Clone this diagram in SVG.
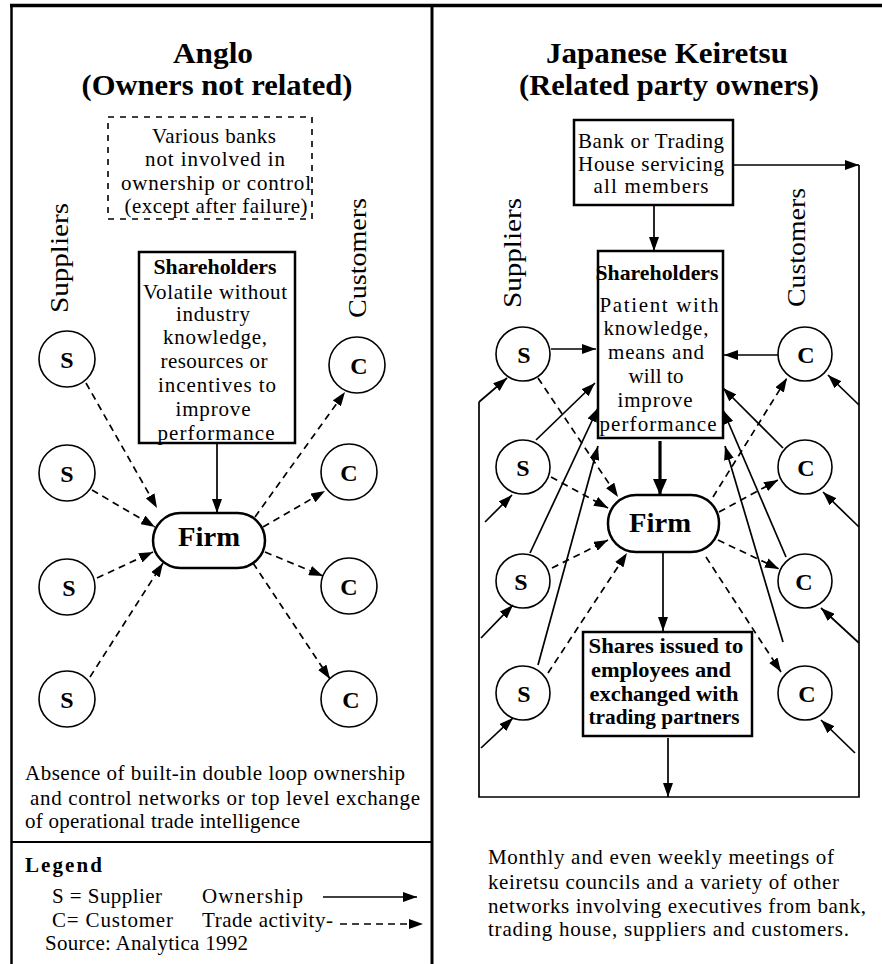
<svg xmlns="http://www.w3.org/2000/svg" width="882" height="964" viewBox="0 0 882 964">
  <style>
    text { font-family: "Liberation Serif", "Times New Roman", serif; fill: #000; }
    .title { font-size: 29px; font-weight: bold; text-anchor: middle; }
    .body { font-size: 21px; text-anchor: middle; }
    .bold { font-size: 21px; font-weight: bold; text-anchor: middle; }
    .letter { font-size: 24px; font-weight: bold; text-anchor: middle; }
    .firm { font-size: 28px; font-weight: bold; text-anchor: middle; }
    .side { font-size: 25px; }
    .note { font-size: 21px; }
    .box { fill: #fff; stroke: #000; stroke-width: 2.5; }
    .dbox { fill: none; stroke: #000; stroke-width: 1.6; stroke-dasharray: 6 6; }
    .circ { fill: #fff; stroke: #000; stroke-width: 1.6; }
    .frame { stroke: #000; fill: none; }
    .own { stroke: #000; stroke-width: 1.7; fill: none; marker-end: url(#ah); }
    .trade { stroke: #000; stroke-width: 1.7; fill: none; stroke-dasharray: 7 5; marker-end: url(#ah); }
    .plain { stroke: #000; stroke-width: 1.7; fill: none; }
  </style>
  <defs>
    <marker id="ah" viewBox="0 0 14 10" refX="14" refY="5" markerWidth="14" markerHeight="10" orient="auto" markerUnits="userSpaceOnUse">
      <path d="M0,0 L14,5 L0,10 z" fill="#000"/>
    </marker>
    <marker id="ahBig" viewBox="0 0 16 14" refX="16" refY="7" markerWidth="16" markerHeight="14" orient="auto" markerUnits="userSpaceOnUse">
      <path d="M0,0 L16,7 L0,14 z" fill="#000"/>
    </marker>
  </defs>

  <rect width="882" height="964" fill="#fff"/>

  <!-- panel frame -->
  <g id="frame">
    <line class="frame" x1="10" y1="5.5" x2="882" y2="5.5" stroke-width="3.5"/>
    <line class="frame" x1="11.5" y1="4" x2="11.5" y2="964" stroke-width="2.5"/>
    <line class="frame" x1="432" y1="4" x2="432" y2="964" stroke-width="3"/>
    <line class="frame" x1="11" y1="842" x2="432" y2="842" stroke-width="2"/>
  </g>

  <!-- ===== Left panel: Anglo ===== -->
  <g id="anglo-title">
    <text class="title" x="213" y="63" textLength="80" lengthAdjust="spacingAndGlyphs">Anglo</text>
    <text class="title" x="217" y="95" textLength="271" lengthAdjust="spacingAndGlyphs">(Owners not related)</text>
  </g>

  <g id="anglo-banks">
    <rect class="dbox" x="108" y="117" width="204" height="102"/>
    <text class="body" x="214" y="143" textLength="124">Various banks</text>
    <text class="body" x="215" y="166" textLength="140">not involved in</text>
    <text class="body" x="216" y="190" textLength="190">ownership or control</text>
    <text class="body" x="216" y="213" textLength="183">(except after failure)</text>
  </g>

  <g id="anglo-suppliers-label">
    <text class="side" transform="translate(68,313) rotate(-90)" textLength="110" lengthAdjust="spacingAndGlyphs">Suppliers</text>
  </g>
  <g id="anglo-customers-label">
    <text class="side" transform="translate(366,318) rotate(-90)" textLength="120" lengthAdjust="spacingAndGlyphs">Customers</text>
  </g>

  <g id="anglo-shareholders">
    <rect class="box" x="139" y="252" width="156" height="191"/>
    <text class="bold" x="215" y="274" font-size="20" textLength="123" lengthAdjust="spacingAndGlyphs">Shareholders</text>
    <text class="body" x="215" y="299" textLength="144">Volatile without</text>
    <text class="body" x="213" y="321" textLength="74">industry</text>
    <text class="body" x="215" y="344" textLength="104">knowledge,</text>
    <text class="body" x="214" y="368" textLength="107">resources or</text>
    <text class="body" x="217" y="392" textLength="118">incentives to</text>
    <text class="body" x="213" y="416" textLength="75">improve</text>
    <text class="body" x="216" y="440" textLength="117">performance</text>
  </g>

  <g id="anglo-firm">
    <rect class="box" x="153" y="513" width="112" height="55" rx="27.5" stroke-width="2"/>
    <text class="firm" x="209" y="546" textLength="62" lengthAdjust="spacingAndGlyphs">Firm</text>
  </g>

  <g id="anglo-s1"><circle class="circ" cx="67" cy="359" r="28"/><text class="letter" x="67" y="368">S</text></g>
  <g id="anglo-s2"><circle class="circ" cx="67" cy="473" r="28"/><text class="letter" x="67" y="482">S</text></g>
  <g id="anglo-s3"><circle class="circ" cx="67" cy="587" r="28"/><text class="letter" x="69" y="596">S</text></g>
  <g id="anglo-s4"><circle class="circ" cx="67" cy="699" r="28"/><text class="letter" x="67" y="708">S</text></g>
  <g id="anglo-c1"><circle class="circ" cx="357" cy="365" r="28"/><text class="letter" x="359" y="374">C</text></g>
  <g id="anglo-c2"><circle class="circ" cx="349" cy="472" r="28"/><text class="letter" x="349" y="481">C</text></g>
  <g id="anglo-c3"><circle class="circ" cx="349" cy="586" r="28"/><text class="letter" x="349" y="595">C</text></g>
  <g id="anglo-c4"><circle class="circ" cx="349" cy="699" r="28"/><text class="letter" x="351" y="708">C</text></g>

  <g id="anglo-connectors">
    <path class="own" d="M217,443 L217,513"/>
    <path class="trade" d="M86,383 L157,508"/>
    <path class="trade" d="M92,490 L155,527"/>
    <path class="trade" d="M97,578 L153,552"/>
    <path class="trade" d="M90,677 L163,563"/>
    <path class="trade" d="M255,517 L345,392"/>
    <path class="trade" d="M263,527 L325,491"/>
    <path class="trade" d="M265,552 L323,576"/>
    <path class="trade" d="M253,563 L330,679"/>
  </g>

  <g id="anglo-note">
    <text class="note" x="25" y="780" textLength="380">Absence of built-in double loop ownership</text>
    <text class="note" x="30" y="805" textLength="390">and control networks or top level exchange</text>
    <text class="note" x="25" y="828" textLength="275">of operational trade intelligence</text>
  </g>

  <g id="legend">
    <text class="note" x="25" y="872" font-weight="bold" font-size="23" textLength="77">Legend</text>
    <text class="note" x="52" y="903" textLength="110">S = Supplier</text>
    <text class="note" x="202" y="903" textLength="101">Ownership</text>
    <path class="own" d="M323,897 L417,897"/>
    <text class="note" x="52" y="927" textLength="121">C= Customer</text>
    <text class="note" x="202" y="927" textLength="131">Trade activity-</text>
    <path class="trade" d="M340,924 L423,924"/>
    <text class="note" x="45" y="950" textLength="203">Source: Analytica 1992</text>
  </g>

  <!-- ===== Right panel: Japanese Keiretsu ===== -->
  <g id="keiretsu-title">
    <text class="title" x="667" y="63" textLength="242" lengthAdjust="spacingAndGlyphs">Japanese Keiretsu</text>
    <text class="title" x="669" y="95" textLength="300" lengthAdjust="spacingAndGlyphs">(Related party owners)</text>
  </g>

  <g id="keiretsu-bank">
    <rect class="box" x="574" y="120" width="159" height="85"/>
    <text class="body" x="651" y="148" textLength="146">Bank or Trading</text>
    <text class="body" x="651" y="171" textLength="146">House servicing</text>
    <text class="body" x="651" y="193" textLength="115">all members</text>
  </g>

  <g id="keiretsu-suppliers-label">
    <text class="side" transform="translate(521,308) rotate(-90)" textLength="110" lengthAdjust="spacingAndGlyphs">Suppliers</text>
  </g>
  <g id="keiretsu-customers-label">
    <text class="side" transform="translate(805,307) rotate(-90)" textLength="119" lengthAdjust="spacingAndGlyphs">Customers</text>
  </g>

  <g id="keiretsu-shareholders">
    <rect class="box" x="598" y="251" width="125" height="187"/>
    <text class="bold" x="657" y="280" textLength="123" lengthAdjust="spacingAndGlyphs">Shareholders</text>
    <text class="body" x="659" y="312" textLength="119">Patient  with</text>
    <text class="body" x="656" y="335" textLength="105">knowledge,</text>
    <text class="body" x="656" y="359" textLength="96">means and</text>
    <text class="body" x="656" y="383" textLength="55">will to</text>
    <text class="body" x="655" y="407" textLength="75">improve</text>
    <text class="body" x="658" y="431" textLength="117">performance</text>
  </g>

  <g id="keiretsu-firm">
    <rect class="box" x="608" y="495" width="111" height="57" rx="28" stroke-width="2"/>
    <text class="firm" x="660" y="532" textLength="62" lengthAdjust="spacingAndGlyphs">Firm</text>
  </g>

  <g id="keiretsu-shares">
    <rect class="box" x="583" y="632" width="169" height="104"/>
    <text class="bold" x="666" y="653" textLength="155" lengthAdjust="spacingAndGlyphs">Shares issued to</text>
    <text class="bold" x="661" y="677" textLength="140" lengthAdjust="spacingAndGlyphs">employees and</text>
    <text class="bold" x="664" y="701" textLength="149" lengthAdjust="spacingAndGlyphs">exchanged with</text>
    <text class="bold" x="664" y="724" textLength="151" lengthAdjust="spacingAndGlyphs">trading partners</text>
  </g>

  <g id="keiretsu-s1"><circle class="circ" cx="523" cy="354" r="27"/><text class="letter" x="524" y="363">S</text></g>
  <g id="keiretsu-s2"><circle class="circ" cx="523" cy="467" r="27"/><text class="letter" x="523" y="476">S</text></g>
  <g id="keiretsu-s3"><circle class="circ" cx="523" cy="581" r="27"/><text class="letter" x="521" y="590">S</text></g>
  <g id="keiretsu-s4"><circle class="circ" cx="523" cy="693" r="27"/><text class="letter" x="524" y="702">S</text></g>
  <g id="keiretsu-c1"><circle class="circ" cx="805" cy="354" r="27"/><text class="letter" x="806" y="363">C</text></g>
  <g id="keiretsu-c2"><circle class="circ" cx="805" cy="467" r="27"/><text class="letter" x="806" y="476">C</text></g>
  <g id="keiretsu-c3"><circle class="circ" cx="805" cy="581" r="27"/><text class="letter" x="804" y="590">C</text></g>
  <g id="keiretsu-c4"><circle class="circ" cx="805" cy="693" r="27"/><text class="letter" x="807" y="702">C</text></g>

  <g id="keiretsu-connectors">
    <!-- bank links -->
    <path class="own" d="M654,205 L654,251"/>
    <path class="own" d="M733,165 L859,165"/>
    <!-- outer ownership loop -->
    <path class="plain" d="M859,165 L859,797 L479,797 L479,402"/>
    <path class="own" d="M479,402 L507,378"/>
    <path class="own" d="M485,522 L512,495"/>
    <path class="own" d="M481,638 L513,605"/>
    <path class="own" d="M481,748 L513,718"/>
    <path class="own" d="M859,405 L828,375"/>
    <path class="own" d="M859,527 L823,492"/>
    <path class="own" d="M859,643 L821,608"/>
    <path class="own" d="M855,753 L821,720"/>
    <!-- suppliers -->
    <path class="own" d="M551,349 L596,349"/>
    <path class="trade" d="M538,378 L618,497"/>
    <path class="own" d="M536,440 L595,383"/>
    <path class="trade" d="M551,477 L608,508"/>
    <path class="own" d="M530,553 L598,408"/>
    <path class="trade" d="M552,568 L608,540"/>
    <path class="own" d="M538,665 L598,446"/>
    <path class="trade" d="M548,673 L627,553"/>
    <!-- customers -->
    <path class="own" d="M778,355 L724,355"/>
    <path class="trade" d="M713,497 L787,378"/>
    <path class="own" d="M783,448 L723,388"/>
    <path class="trade" d="M719,512 L778,480"/>
    <path class="own" d="M786,557 L723,410"/>
    <path class="trade" d="M718,540 L779,569"/>
    <path class="own" d="M783,642 L725,446"/>
    <path class="trade" d="M706,557 L781,672"/>
    <!-- firm chain -->
    <path d="M660,441 L660,495" stroke="#000" stroke-width="3.2" fill="none" marker-end="url(#ahBig)"/>
    <path class="own" d="M663,552 L663,631"/>
    <path class="own" d="M668,738 L668,797"/>
  </g>

  <g id="keiretsu-note">
    <text class="note" x="488" y="864" textLength="346">Monthly and even weekly meetings of</text>
    <text class="note" x="488" y="889" textLength="351">keiretsu councils and a variety of other</text>
    <text class="note" x="488" y="913" textLength="378">networks involving executives from bank,</text>
    <text class="note" x="488" y="936" textLength="361">trading  house, suppliers and customers.</text>
  </g>
</svg>
